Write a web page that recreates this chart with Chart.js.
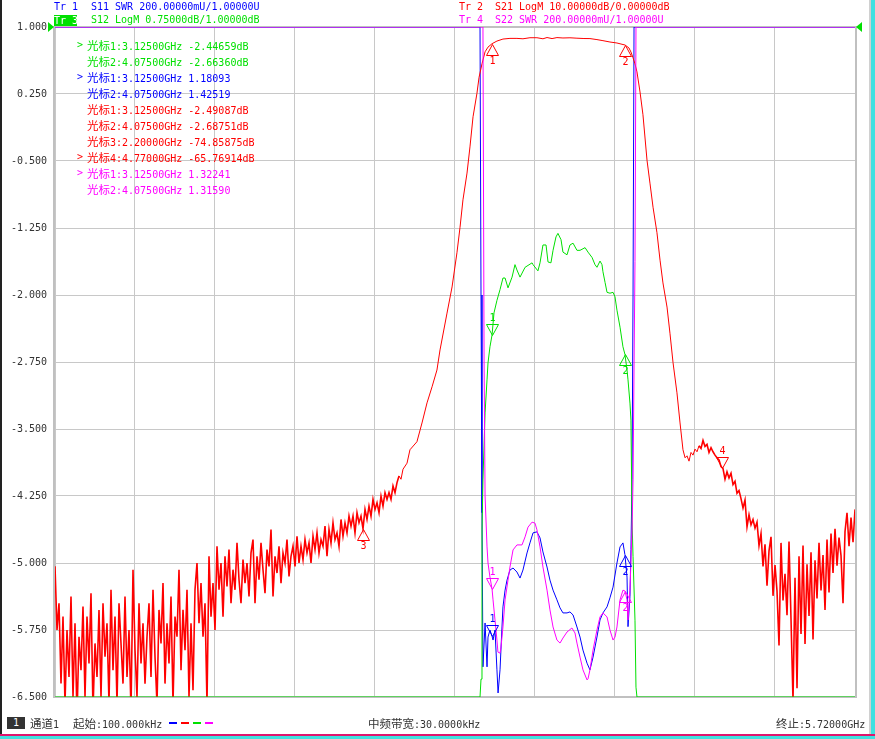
<!DOCTYPE html>
<html>
<head>
<meta charset="utf-8">
<script src="https://cdn.jsdelivr.net/npm/chart.js@4.4.1/dist/chart.umd.min.js"></script>
<style>
  body { margin: 0; background: #fff; }
  #wrap { position: relative; width: 875px; height: 739px; overflow: hidden; background: #fff;
          font-family: "DejaVu Sans Mono", "Noto Sans CJK SC", monospace; font-size: 10px; }
  #chart { position: absolute; left: 0; top: 0; }
  .t { position: absolute; white-space: pre; line-height: 12px; height: 12px; z-index: 2; }
  .k { font-family: "Noto Sans CJK SC"; font-size: 11.5px; }
  .dash { position: absolute; top: 722px; width: 8px; height: 2px; z-index: 2; }
</style>
</head>
<body>
<div id="wrap">
  <canvas id="chart" width="875" height="739"></canvas>

  <div class="t" style="left:54px;top:1px;color:#0000ff">Tr 1</div>
  <div class="t" style="left:91px;top:1px;color:#0000ff">S11 SWR 200.00000mU/1.00000U</div>
  <div class="t" style="left:459px;top:1px;color:#ff0000">Tr 2</div>
  <div class="t" style="left:495px;top:1px;color:#ff0000">S21 LogM 10.00000dB/0.00000dB</div>
  <div class="t" style="left:54px;top:15px;width:23px;height:11px;line-height:11px;background:#00e000;color:#fff">Tr 3</div>
  <div class="t" style="left:91px;top:14px;color:#00e000">S12 LogM 0.75000dB/1.00000dB</div>
  <div class="t" style="left:459px;top:14px;color:#ff00ff">Tr 4</div>
  <div class="t" style="left:495px;top:14px;color:#ff00ff">S22 SWR 200.00000mU/1.00000U</div>

  <div id="readout"></div>

  <div class="t" style="left:7px;top:717px;width:18px;background:#333;color:#fff;text-align:center">1</div>
  <div class="t" style="left:30px;top:717px;color:#333"><span class="k">通道</span>1</div>
  <div class="t" style="left:73px;top:717px;color:#333"><span class="k">起始</span>:100.000kHz</div>
  <div class="dash" style="left:169px;background:#0000ff"></div>
  <div class="dash" style="left:181px;background:#ff0000"></div>
  <div class="dash" style="left:193px;background:#00e000"></div>
  <div class="dash" style="left:205px;background:#ff00ff"></div>
  <div class="t" style="left:368px;top:717px;color:#333"><span class="k">中频带宽</span>:30.0000kHz</div>
  <div class="t" style="left:776px;top:717px;color:#333"><span class="k">终止</span>:5.72000GHz</div>

  <div style="position:absolute;left:0;top:0;width:2px;height:739px;background:#222;z-index:3"></div>
  <div style="position:absolute;left:869px;top:0;width:2px;height:739px;background:#d0d0d0;z-index:3"></div>
  <div style="position:absolute;left:871px;top:0;width:4px;height:739px;background:#40e0e0;z-index:3"></div>
  <div style="position:absolute;left:0;top:734px;width:875px;height:2px;background:#e0146c;z-index:3"></div>
  <div style="position:absolute;left:0;top:736px;width:875px;height:3px;background:#40e0e0;z-index:3"></div>
</div>

<script>
// sweep: 100 kHz .. 5.72 GHz
const sweepStart = 0.0001;
const sweepStep = 0.0143;   // GHz between stored noise points
const xTicks = [0.0001, 0.572, 1.144, 1.716, 2.288, 2.86, 3.432, 4.004, 4.576, 5.148, 5.72];
const yTicks = [1, 0.25, -0.5, -1.25, -2, -2.75, -3.5, -4.25, -5, -5.75, -6.5];

// Tr2 S21 (dB) - noisy low band, sweep index 0..174
const redLow = [
  -80.5, -90, -86, -98, -88, -101, -90, -97, -85, -100, -89, -103, -91, -96, -86.5, -100, -88, -95, -84.5, -102, -92, -97, -87,
  -100, -86, -94, -89, -101, -84, -96, -88, -101, -86, -92, -98, -85, -97, -90, -102, -81, -93, -100, -86, -95, -89, -98,
  -91, -86, -97, -84, -94, -101, -87, -92, -83, -98, -89, -95, -85, -101, -88, -91, -81, -96, -87, -93, -84, -100, -89,
  -99, -84, -80, -89, -83, -91, -86, -101, -79, -88, -83, -90,
  -77.5, -84, -80, -88, -79, -83.5, -78, -86, -81, -84, -77, -82.5, -86, -79.5, -83, -80, -85, -78.5,
  -76.5, -86, -79, -82.5, -77, -81, -84.5, -78, -80.5, -75, -85, -79, -81.5, -77.5, -83, -78.5, -80, -76.5, -82, -79, -77.5, -80.5,
  -76, -80, -77.5, -79.5, -76.5, -78.5, -77, -80, -76, -78, -75.5, -78.5, -76.5, -77.5, -74.5, -79, -75, -77, -74, -76.5, -75.5, -77.5, -73.5, -76, -74, -75.5, -73, -74.5,
  -73, -75.5, -72.5, -74, -73, -74.9, -72, -73.5, -71.5, -73, -70.5, -72, -71, -72.5, -70, -71.5, -69.5, -70.5, -69.5, -70.5, -68.5, -69.5, -68, -67, -67.5, -66
];
// Tr2 S21 passband [GHz, dB]
const redMid = [
  [2.517, -65.1], [2.538, -63.1], [2.588, -61.9], [2.624, -59.1], [2.660, -56.1], [2.696, -53.7], [2.731, -51.2],
  [2.753, -48.2], [2.803, -42.7], [2.839, -38.8], [2.874, -33.7], [2.896, -29.9], [2.917, -25.8], [2.946, -21.8],
  [2.967, -17.9], [2.989, -13.4], [3.017, -9.9], [3.032, -7.5], [3.053, -5.5], [3.075, -3.7], [3.096, -3.0],
  [3.125, -2.49], [3.160, -2.1], [3.203, -1.8], [3.253, -1.7], [3.303, -1.7], [3.346, -1.76], [3.396, -1.6],
  [3.446, -1.6], [3.489, -1.76], [3.518, -1.57], [3.554, -1.73], [3.589, -1.58], [3.632, -1.64], [3.682, -1.61],
  [3.732, -1.67], [3.782, -1.72], [3.825, -1.73], [3.875, -1.88], [3.918, -2.04], [3.968, -2.24], [4.018, -2.39],
  [4.047, -2.54], [4.076, -2.69], [4.104, -3.13], [4.118, -3.73], [4.133, -4.6], [4.147, -5.5], [4.161, -6.7],
  [4.183, -9.7], [4.204, -13.1], [4.233, -19.9], [4.254, -23.3], [4.276, -26.9], [4.304, -30.7], [4.326, -34.8],
  [4.347, -38.2], [4.376, -41.8], [4.397, -45.7], [4.419, -50.1], [4.447, -54.6], [4.469, -59.1], [4.490, -63.1],
  [4.505, -64.3]
];
// Tr2 S21 upper stopband, sweep index 316..400
const redHighStart = 316;
const redHigh = [
  -64.0, -64.8, -63.5, -63.9, -63.0, -63.4, -62.5, -62.9, -61.7, -62.6,
  -62.3, -63.5, -62.8, -63.4, -63.9, -64.3, -64.6, -65.6, -65.9, -67.5,
  -66.4, -67.3, -66.6, -68.3, -67.8, -69.6, -69.2, -70.4, -71.8, -70.6,
  -74.6, -72.8, -74.3, -73.5, -74.8, -73.9, -77.4, -75.6, -80.5, -77.2,
  -83.4, -78.2, -76.1, -84.9, -80.3, -84.2, -92.3, -77.0, -85.6, -81.6,
  -87.8, -76.8, -88.4, -100.5, -82.2, -98.7, -79.0, -90.6, -77.4, -92.1,
  -80.2, -87.9, -78.4, -91.4, -79.6, -85.3, -77.0, -84.1, -78.8, -87.0,
  -76.5, -84.4, -75.6, -81.5, -74.9, -80.4, -76.2, -78.9, -86.0, -75.3,
  -72.5, -77.5, -73.2, -76.9, -72.0
];

// Tr3 S12 (dB), clamped at the bottom of the screen outside the band
const greenPts = [
  [0.0001, -6.5], [3.039, -6.5], [3.046, -6.3], [3.053, -4.63], [3.060, -4.07], [3.075, -3.32], [3.089, -2.95],
  [3.096, -2.76], [3.110, -2.58], [3.125, -2.447], [3.139, -2.20], [3.160, -2.06], [3.182, -1.94], [3.203, -1.81],
  [3.218, -1.81], [3.239, -1.92], [3.268, -1.80], [3.289, -1.66], [3.303, -1.72], [3.325, -1.80], [3.361, -1.69],
  [3.411, -1.64], [3.418, -1.66], [3.453, -1.73], [3.468, -1.64], [3.489, -1.44], [3.511, -1.44], [3.525, -1.63],
  [3.546, -1.64], [3.561, -1.50], [3.582, -1.35], [3.596, -1.31], [3.618, -1.38], [3.632, -1.52], [3.661, -1.55],
  [3.682, -1.44], [3.704, -1.42], [3.732, -1.50], [3.754, -1.50], [3.790, -1.47], [3.811, -1.52], [3.840, -1.58],
  [3.861, -1.66], [3.875, -1.69], [3.897, -1.62], [3.911, -1.66], [3.918, -1.74], [3.933, -1.86], [3.947, -1.97],
  [3.968, -1.98], [3.990, -1.97], [4.004, -2.02], [4.018, -2.17], [4.040, -2.36], [4.061, -2.58], [4.075, -2.664],
  [4.090, -2.84], [4.097, -2.95], [4.111, -3.21], [4.118, -3.40], [4.126, -4.52], [4.133, -4.93], [4.147, -5.64],
  [4.154, -6.39], [4.161, -6.5], [5.72, -6.5]
];

// Tr1 S11 SWR, clamped at 3.0 (top)
const bluePts = [
  [0.0001, 3], [3.039, 3], [3.046, 2.2], [3.053, 1.55], [3.060, 1.09], [3.075, 1.221], [3.089, 1.09], [3.096, 1.179],
  [3.110, 1.20], [3.125, 1.181], [3.132, 1.17], [3.146, 1.20], [3.160, 1.081], [3.168, 1.012], [3.182, 1.081],
  [3.196, 1.209], [3.203, 1.269], [3.218, 1.319], [3.232, 1.349], [3.253, 1.379], [3.275, 1.385], [3.303, 1.373],
  [3.325, 1.355], [3.346, 1.379], [3.375, 1.430], [3.396, 1.460], [3.418, 1.490], [3.446, 1.493], [3.468, 1.475],
  [3.489, 1.433], [3.518, 1.388], [3.539, 1.349], [3.561, 1.319], [3.589, 1.290], [3.611, 1.266], [3.632, 1.251],
  [3.661, 1.251], [3.682, 1.254], [3.704, 1.245], [3.732, 1.209], [3.754, 1.179], [3.775, 1.140], [3.804, 1.101],
  [3.825, 1.081], [3.847, 1.119], [3.875, 1.179], [3.897, 1.230], [3.918, 1.251], [3.947, 1.269], [3.968, 1.296],
  [3.990, 1.328], [4.018, 1.400], [4.040, 1.448], [4.061, 1.460], [4.075, 1.425], [4.090, 1.358], [4.097, 1.21],
  [4.111, 1.30], [4.118, 1.44], [4.126, 1.65], [4.133, 2.2], [4.140, 3], [5.72, 3]
];

// Tr4 S22 SWR, clamped at 3.0 (top)
const magPts = [
  [0.0001, 3], [3.060, 3], [3.068, 2.0], [3.075, 1.60], [3.089, 1.448], [3.096, 1.400], [3.110, 1.358], [3.125, 1.322],
  [3.132, 1.290], [3.146, 1.230], [3.160, 1.170], [3.167, 1.134], [3.182, 1.131], [3.189, 1.149], [3.203, 1.209],
  [3.218, 1.290], [3.239, 1.349], [3.253, 1.388], [3.275, 1.439], [3.303, 1.454], [3.339, 1.454], [3.361, 1.478],
  [3.382, 1.507], [3.411, 1.522], [3.432, 1.519], [3.446, 1.499], [3.468, 1.448], [3.489, 1.388], [3.518, 1.319],
  [3.539, 1.260], [3.561, 1.209], [3.589, 1.170], [3.611, 1.161], [3.632, 1.176], [3.661, 1.194], [3.696, 1.206],
  [3.718, 1.191], [3.732, 1.161], [3.754, 1.119], [3.775, 1.081], [3.804, 1.051], [3.811, 1.054], [3.825, 1.081],
  [3.847, 1.140], [3.875, 1.200], [3.897, 1.239], [3.918, 1.251], [3.947, 1.239], [3.968, 1.200], [3.990, 1.170],
  [4.004, 1.179], [4.018, 1.209], [4.040, 1.290], [4.061, 1.319], [4.076, 1.316], [4.090, 1.290], [4.097, 1.230],
  [4.111, 1.319], [4.126, 1.499], [4.133, 1.648], [4.147, 2.3], [4.154, 3], [5.72, 3]
];

// markers [GHz, value]
const greenMk = [[3.125, -2.44659], [4.075, -2.66360]];
const blueMk = [[3.125, 1.18093], [4.075, 1.42519]];
const redMk = [[3.125, -2.49087], [4.075, -2.68751], [2.2, -74.85875], [4.77, -65.76914]];
const magMk = [[3.125, 1.32241], [4.075, 1.31590]];

const BLUE = '#0000ff', RED = '#ff0000', GREEN = '#00e000', MAG = '#ff00ff';

function sweepPts(vals, i0) {
  return vals.map((v, i) => ({ x: sweepStart + (i0 + i) * sweepStep, y: v }));
}
function pairPts(arr) {
  return arr.map(p => ({ x: p[0], y: p[1] }));
}

const redData = sweepPts(redLow, 0).concat(pairPts(redMid), sweepPts(redHigh, redHighStart));

// marker groups: axis, colour, triangle direction per marker, active marker
const markerGroups = [
  { mk: greenMk, axis: 'y', color: GREEN, dir: ['d', 'u'], unit: 'dB', active: 0 },
  { mk: blueMk, axis: 'y3', color: BLUE, dir: ['d', 'u'], unit: '', active: 0 },
  { mk: redMk, axis: 'y2', color: RED, dir: ['u', 'u', 'u', 'd'], unit: 'dB', active: 3 },
  { mk: magMk, axis: 'y3', color: MAG, dir: ['d', 'u'], unit: '', active: 0 }
];

// marker readout lines
let html = '';
let row = 0;
markerGroups.forEach(g => {
  g.mk.forEach((m, i) => {
    const top = 39 + row * 16;
    if (i === g.active) {
      html += `<div class="t" style="left:77px;top:${top}px;color:${g.color}">&gt;</div>`;
    }
    html += `<div class="t" style="left:87px;top:${top}px;color:${g.color}"><span class="k">光标</span>${i + 1}:${m[0].toFixed(5)}GHz ${m[1].toFixed(5)}${g.unit}</div>`;
    row++;
  });
});
document.getElementById('readout').innerHTML = html;

const framePlugin = {
  id: 'frame',
  beforeDatasetsDraw(chart) {
    const a = chart.chartArea, ctx = chart.ctx;
    ctx.save();
    ctx.strokeStyle = '#c0c0c0';
    ctx.lineWidth = 2;
    ctx.strokeRect(a.left - 1, a.top, a.right - a.left + 2, a.bottom - a.top);
    ctx.restore();
  },
  afterDatasetsDraw(chart) {
    const ctx = chart.ctx;
    const xs = chart.scales.x;
    ctx.save();
    ctx.lineWidth = 1;
    ctx.font = '10px "DejaVu Sans Mono"';
    ctx.textAlign = 'center';
    ctx.textBaseline = 'middle';
    markerGroups.forEach(g => {
      const ys = chart.scales[g.axis];
      ctx.strokeStyle = g.color;
      ctx.fillStyle = g.color;
      g.mk.forEach((m, i) => {
        const px = Math.round(xs.getPixelForValue(m[0])) + 0.5;
        const py = Math.round(ys.getPixelForValue(m[1])) + 0.5;
        const s = g.dir[i] === 'u' ? 1 : -1;
        ctx.beginPath();
        ctx.moveTo(px, py);
        ctx.lineTo(px - 6, py + s * 11);
        ctx.lineTo(px + 6, py + s * 11);
        ctx.closePath();
        ctx.stroke();
        ctx.fillText(String(i + 1), px, py + s * 17);
      });
    });
    // reference position arrows
    const a = chart.chartArea;
    ctx.fillStyle = GREEN;
    ctx.beginPath();
    ctx.moveTo(a.left - 1, a.top);
    ctx.lineTo(a.left - 7, a.top - 5);
    ctx.lineTo(a.left - 7, a.top + 5);
    ctx.closePath();
    ctx.fill();
    ctx.beginPath();
    ctx.moveTo(a.right + 1, a.top);
    ctx.lineTo(a.right + 7, a.top - 5);
    ctx.lineTo(a.right + 7, a.top + 5);
    ctx.closePath();
    ctx.fill();
    ctx.restore();
  }
};

const lineDs = (label, data, color, axis) => ({
  label: label,
  data: data,
  borderColor: color,
  backgroundColor: color,
  borderWidth: 1,
  pointRadius: 0,
  tension: 0,
  fill: false,
  yAxisID: axis
});

const redDs = lineDs('S21', redData, RED, 'y2');
// noisy stopband spikes are drawn a little heavier so they read as a band
redDs.segment = {
  borderWidth: c => (c.p0.parsed.x < 2.45 || c.p0.parsed.x > 4.6) ? 1.6 : 1
};

new Chart(document.getElementById('chart'), {
  type: 'line',
  data: {
    datasets: [
      lineDs('S22', pairPts(magPts), MAG, 'y3'),
      lineDs('S12', pairPts(greenPts), GREEN, 'y'),
      redDs,
      lineDs('S11', pairPts(bluePts), BLUE, 'y3')
    ]
  },
  options: {
    responsive: false,
    animation: false,
    layout: { padding: { top: 27, right: 20, bottom: 42, left: 0 } },
    plugins: { legend: { display: false }, tooltip: { enabled: false } },
    scales: {
      x: {
        type: 'linear',
        min: 0.0001,
        max: 5.72,
        afterBuildTicks: s => { s.ticks = xTicks.map(v => ({ value: v })); },
        afterFit: s => { s.height = 0; },
        ticks: { display: false },
        grid: { color: '#c8c8c8', drawTicks: false },
        border: { display: false }
      },
      y: {
        position: 'left',
        min: -6.5,
        max: 1,
        afterBuildTicks: s => { s.ticks = yTicks.map(v => ({ value: v })); },
        afterFit: s => { s.width = 55; },
        ticks: {
          padding: 8,
          color: '#333',
          font: { family: 'DejaVu Sans Mono', size: 10 },
          callback: v => Number(v).toFixed(3)
        },
        grid: { color: '#c8c8c8', drawTicks: false },
        border: { display: false }
      },
      y2: { display: false, min: -100, max: 0 },
      y3: { display: false, min: 1, max: 3 }
    }
  },
  plugins: [framePlugin]
});
</script>
</body>
</html>
